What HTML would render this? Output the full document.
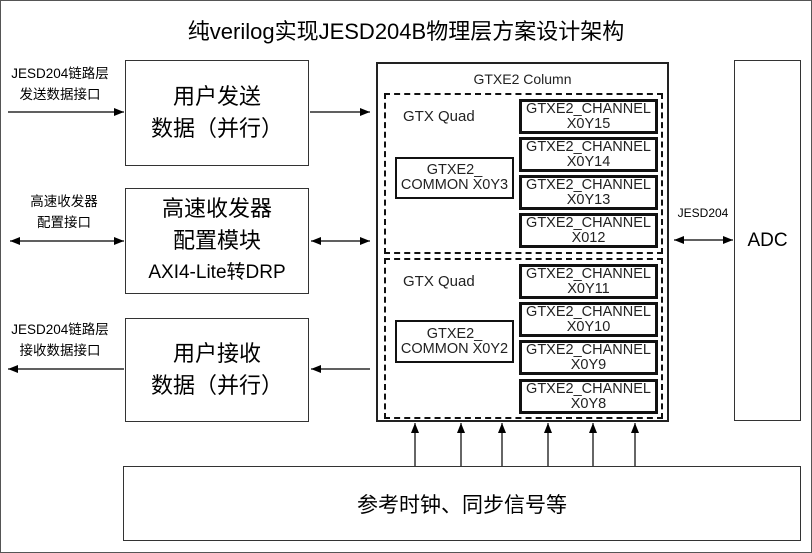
<!DOCTYPE html>
<html><head><meta charset="utf-8"><style>
body{margin:0;width:812px;height:553px;position:relative;background:#fff;overflow:hidden;font-family:"Liberation Sans","Noto Sans CJK SC",sans-serif;color:#000}
.a{position:absolute;box-sizing:border-box}
.b{border:1.5px solid #333;background:#fff}
.c{display:flex;flex-direction:column;align-items:center;justify-content:center;text-align:center}
.ch{border:3px solid #111;font-size:14.5px;line-height:15px;color:#222}
.lbl{font-size:13.5px;line-height:21px;text-align:center}
</style></head><body>
<div class="a" style="left:0;top:0;width:812px;height:553px;border:1px solid #555"></div>
<div class="a" style="left:0;top:14px;width:812px;text-align:center;font-size:22px">纯verilog实现JESD204B物理层方案设计架构</div>

<div class="a b c" style="left:125px;top:60px;width:184px;height:106px;font-size:22px;line-height:32px"><div>用户发送</div><div>数据（并行）</div></div>
<div class="a b c" style="left:125px;top:188px;width:184px;height:106px;font-size:22px;line-height:32px"><div>高速收发器</div><div>配置模块</div><div style="font-size:19px">AXI4-Lite转DRP</div></div>
<div class="a b c" style="left:125px;top:318px;width:184px;height:104px;font-size:22px;line-height:32px"><div>用户接收</div><div>数据（并行）</div></div>

<div class="a lbl" style="left:2px;top:63px;width:116px">JESD204链路层<br>发送数据接口</div>
<div class="a lbl" style="left:2px;top:191px;width:124px">高速收发器<br>配置接口</div>
<div class="a lbl" style="left:2px;top:319px;width:116px">JESD204链路层<br>接收数据接口</div>

<div class="a" style="left:376px;top:62px;width:293px;height:360px;border:2px solid #222"></div>
<div class="a" style="left:376px;top:71px;width:293px;text-align:center;font-size:14px;color:#222">GTXE2 Column</div>
<div class="a" style="left:384px;top:93px;width:279px;height:161px;border:2.5px dashed #111"></div>
<div class="a" style="left:384px;top:258px;width:279px;height:161px;border:2.5px dashed #111"></div>
<div class="a" style="left:403px;top:108px;font-size:15px;color:#222">GTX Quad</div>
<div class="a" style="left:403px;top:273px;font-size:15px;color:#222">GTX Quad</div>
<div class="a c ch" style="left:395px;top:157px;width:119px;height:42px;border-width:2.5px">GTXE2_<br>COMMON X0Y3</div>
<div class="a c ch" style="left:395px;top:320px;width:119px;height:43px;border-width:2.5px">GTXE2_<br>COMMON X0Y2</div>
<div class="a c ch" style="left:519px;top:99px;width:139px;height:35px">GTXE2_CHANNEL<br>X0Y15</div>
<div class="a c ch" style="left:519px;top:137px;width:139px;height:35px">GTXE2_CHANNEL<br>X0Y14</div>
<div class="a c ch" style="left:519px;top:175px;width:139px;height:35px">GTXE2_CHANNEL<br>X0Y13</div>
<div class="a c ch" style="left:519px;top:213px;width:139px;height:35px">GTXE2_CHANNEL<br>X012</div>
<div class="a c ch" style="left:519px;top:264px;width:139px;height:35px">GTXE2_CHANNEL<br>X0Y11</div>
<div class="a c ch" style="left:519px;top:302px;width:139px;height:35px">GTXE2_CHANNEL<br>X0Y10</div>
<div class="a c ch" style="left:519px;top:340px;width:139px;height:35px">GTXE2_CHANNEL<br>X0Y9</div>
<div class="a c ch" style="left:519px;top:379px;width:139px;height:35px">GTXE2_CHANNEL<br>X0Y8</div>

<div class="a b c" style="left:734px;top:60px;width:67px;height:361px;font-size:19px">ADC</div>
<div class="a" style="left:672px;top:206px;width:62px;text-align:center;font-size:12px">JESD204</div>
<div class="a b c" style="left:123px;top:466px;width:678px;height:75px;font-size:21px">参考时钟、同步信号等</div>

<svg class="a" style="left:0;top:0" width="812" height="553">
<defs><marker id="m" markerWidth="10" markerHeight="8" refX="10" refY="4" orient="auto-start-reverse" markerUnits="userSpaceOnUse"><path d="M0,0L10,4L0,8z" fill="#000"/></marker></defs>
<g stroke="#000" stroke-width="1.2" fill="none">
<line x1="8" y1="112" x2="124" y2="112" marker-end="url(#m)"/>
<line x1="310" y1="112" x2="370" y2="112" marker-end="url(#m)"/>
<line x1="10" y1="241" x2="124" y2="241" marker-start="url(#m)" marker-end="url(#m)"/>
<line x1="311" y1="241" x2="370" y2="241" marker-start="url(#m)" marker-end="url(#m)"/>
<line x1="124" y1="369" x2="8" y2="369" marker-end="url(#m)"/>
<line x1="370" y1="369" x2="311" y2="369" marker-end="url(#m)"/>
<line x1="674" y1="240" x2="733" y2="240" marker-start="url(#m)" marker-end="url(#m)"/>
<line x1="415" y1="466" x2="415" y2="423" marker-end="url(#m)"/>
<line x1="461" y1="466" x2="461" y2="423" marker-end="url(#m)"/>
<line x1="502" y1="466" x2="502" y2="423" marker-end="url(#m)"/>
<line x1="548" y1="466" x2="548" y2="423" marker-end="url(#m)"/>
<line x1="593" y1="466" x2="593" y2="423" marker-end="url(#m)"/>
<line x1="635" y1="466" x2="635" y2="423" marker-end="url(#m)"/>
</g></svg>
</body></html>
